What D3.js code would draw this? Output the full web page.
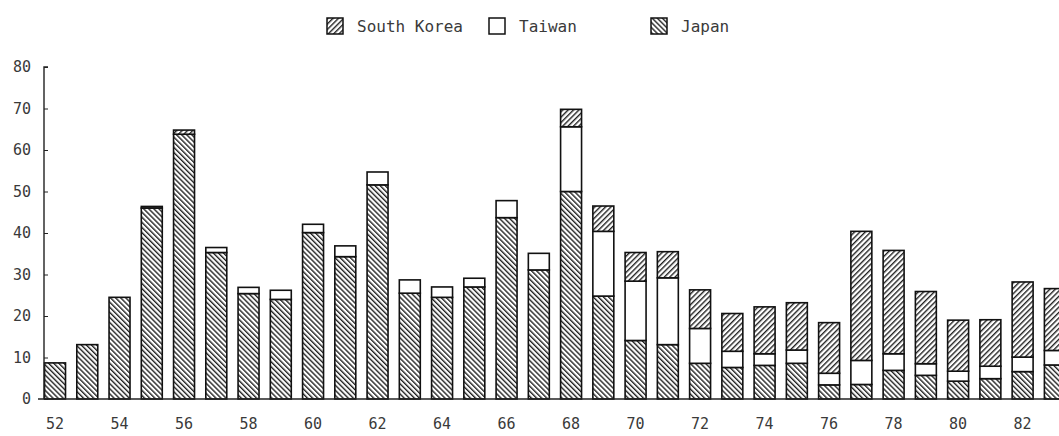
<!DOCTYPE html>
<html lang="en">
<head>
<meta charset="utf-8">
<script src="https://d3js.org/d3.v7.min.js"></script>
<style>
  body { margin: 0; background: #fff; }
  text { font-family: "DejaVu Sans Mono", "Liberation Mono", monospace; fill: #3a3a3a; }
</style>
</head>
<body>
<div id="chart"></div>
<script>
// years 52..83, values
var years = d3.range(52, 84);
var japan  = [8.7, 13.1, 24.5, 46.0, 63.8, 35.3, 25.4, 24.0, 40.1, 34.3, 51.6, 25.5, 24.5, 27.0, 43.7, 31.1,
              50.0, 24.8, 14.1, 13.1, 8.6, 7.6, 8.1, 8.6, 3.4, 3.5, 6.9, 5.7, 4.3, 4.9, 6.6, 8.2];
var taiwan = [0, 0, 0, 0.4, 0, 1.2, 1.5, 2.2, 2.0, 2.6, 3.1, 3.2, 2.5, 2.1, 4.1, 4.0,
              15.6, 15.6, 14.3, 16.1, 8.4, 3.9, 2.8, 3.2, 2.8, 5.8, 4.0, 2.8, 2.4, 3.0, 3.5, 3.5];
var korea  = [0, 0, 0, 0, 1.0, 0, 0, 0, 0, 0, 0, 0, 0, 0, 0, 0,
              4.2, 6.1, 6.9, 6.3, 9.3, 9.1, 11.3, 11.4, 12.2, 31.1, 24.9, 17.4, 12.3, 11.2, 18.1, 14.9];
var yTicks = [0, 10, 20, 30, 40, 50, 60, 70, 80];
var xLabels = d3.range(52, 84, 2);

var series = ["japan", "taiwan", "korea"];
var legendItems = [
  {key: "korea", label: "South Korea", x: 327},
  {key: "taiwan", label: "Taiwan", x: 489},
  {key: "japan", label: "Japan", x: 651}
];

var W = 1059, H = 436;
var rows = years.map(function(y, i) {
  return {year: y, japan: japan[i], taiwan: taiwan[i], korea: korea[i]};
});

var svg = d3.select("#chart").append("svg").attr("width", W).attr("height", H);

// hatch patterns
var defs = svg.append("defs");
function hatch(id, angle, step) {
  var p = defs.append("pattern").attr("id", id)
    .attr("patternUnits", "userSpaceOnUse")
    .attr("width", step).attr("height", step)
    .attr("patternTransform", "rotate(" + angle + ")");
  p.append("rect").attr("width", step).attr("height", step).attr("fill", "#fff");
  p.append("line").attr("x1", 0.7).attr("y1", 0).attr("x2", 0.7).attr("y2", step)
    .attr("stroke", "#1a1a1a").attr("stroke-width", 1.35);
}
hatch("hJapan", -45, 3.6);
hatch("hKorea", 45, 3.8);
var fills = {japan: "url(#hJapan)", taiwan: "#fff", korea: "url(#hKorea)"};

var x = d3.scaleBand().domain(years).range([38.9, 1071])
  .paddingInner(0.35).paddingOuter(0.175);
var y = d3.scaleLinear().domain([0, 80]).range([399, 67]);

var stacked = d3.stack().keys(series)(rows);

svg.append("g").selectAll("g").data(stacked).join("g")
  .attr("fill", function(d) { return fills[d.key]; })
  .selectAll("rect").data(function(d) { return d.filter(function(s) { return s[1] - s[0] > 0; }); })
  .join("rect")
  .attr("x", function(d) { return x(d.data.year); })
  .attr("y", function(d) { return y(d[1]); })
  .attr("width", x.bandwidth())
  .attr("height", function(d) { return y(d[0]) - y(d[1]); })
  .attr("stroke", "#111").attr("stroke-width", 1.6);

// y axis
var yAxis = d3.axisRight(y).tickValues(yTicks).tickSize(4).tickFormat("");
var gy = svg.append("g").attr("transform", "translate(44,0)").call(yAxis);
gy.select(".domain").attr("stroke", "#222").attr("stroke-width", 1.4).attr("d", "M4," + y(80) + "H0V" + y(0));
gy.selectAll(".tick line").attr("stroke", "#222");
svg.append("g").selectAll("text").data(yTicks).join("text")
  .attr("x", 31).attr("y", function(d) { return y(d) + 5; })
  .attr("text-anchor", "end").attr("font-size", 15)
  .text(function(d) { return d; });

// x axis (baseline + labels on even years)
svg.append("line").attr("x1", 38).attr("x2", W).attr("y1", y(0)).attr("y2", y(0))
  .attr("stroke", "#222").attr("stroke-width", 1.6);
svg.append("g").selectAll("text").data(xLabels).join("text")
  .attr("x", function(d) { return x(d) + x.bandwidth() / 2; })
  .attr("y", 429).attr("text-anchor", "middle").attr("font-size", 15)
  .text(function(d) { return d; });

// legend
var lg = svg.append("g").selectAll("g").data(legendItems).join("g")
  .attr("transform", function(d) { return "translate(" + d.x + ",18)"; });
lg.append("rect").attr("width", 16).attr("height", 16)
  .attr("fill", function(d) { return fills[d.key]; })
  .attr("stroke", "#111").attr("stroke-width", 1.5);
lg.append("text").attr("x", 30).attr("y", 14).attr("font-size", 16)
  .text(function(d) { return d.label; });
</script>
</body>
</html>
